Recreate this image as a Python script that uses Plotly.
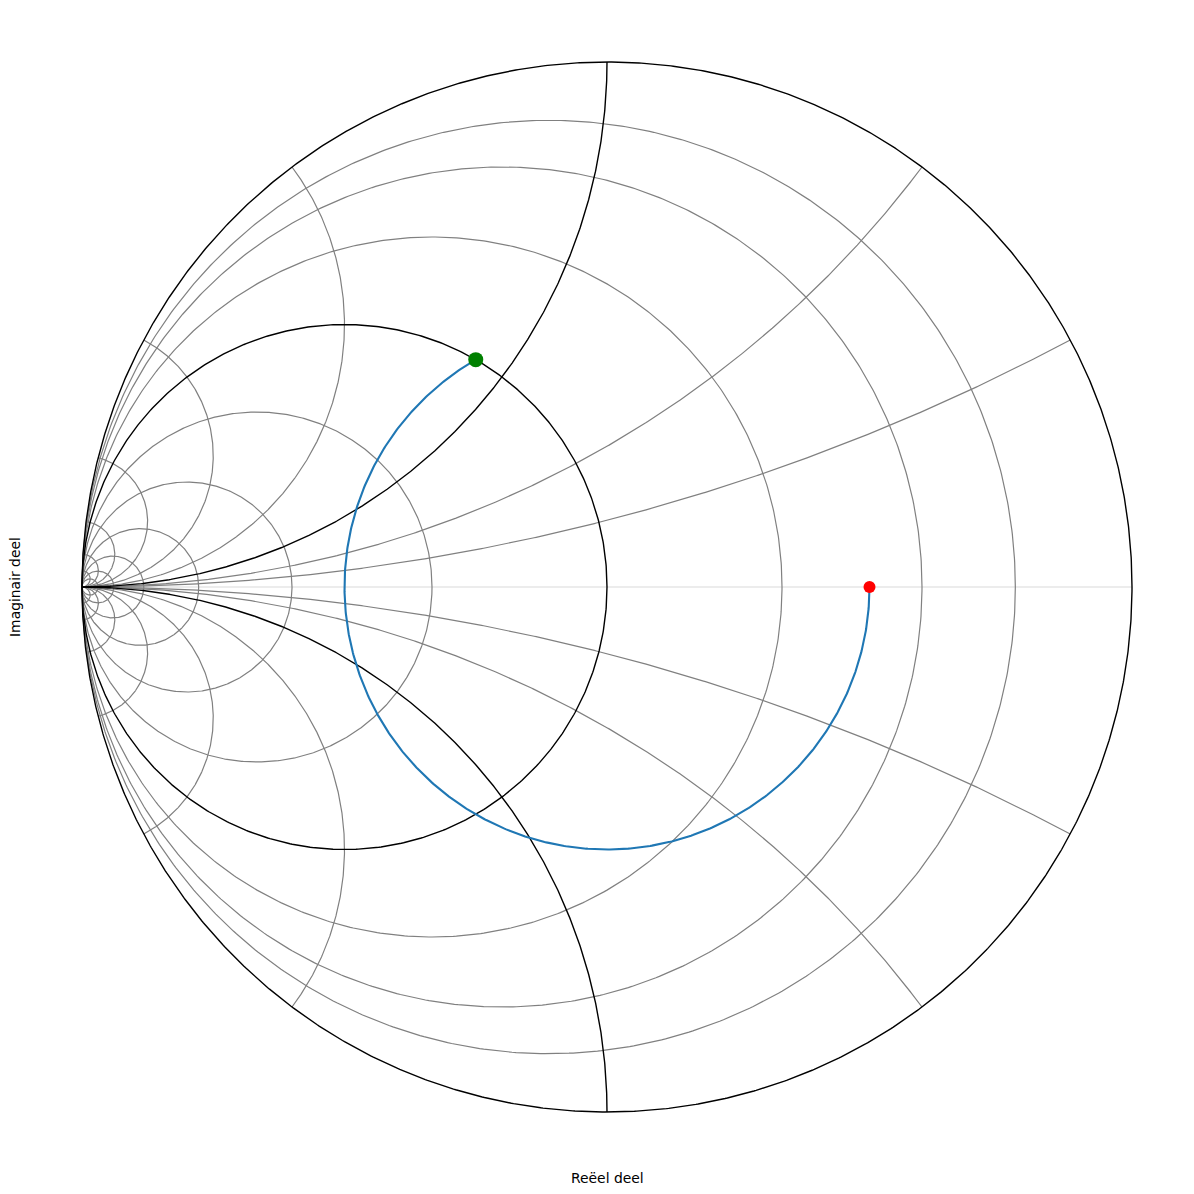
import numpy as np
import plotly.graph_objects as go

# ---- chart data (normalised admittance grid, Smith/admittance chart) ----
conductance_grey = [0.125, 0.25, 0.5, 2, 4, 8, 16, 32, 64]
conductance_black = [1]
susceptance_grey = [0.25, 0.5, 2, 4, 8, 16, 32, 64]
susceptance_black = [1]

gamma_load = 0.5 + 0.0j          # start point (red)
line_length_wl = 1.0 / 3.0       # electrical length of the rotation (wavelengths)

x_label = "Reëel deel"
y_label = "Imaginair deel"


def g_circle(g, n=721):
    c = -g / (1.0 + g)
    r = 1.0 / (1.0 + g)
    t = np.linspace(0, 2 * np.pi, n)
    return list(c + r * np.cos(t)), list(r * np.sin(t))


def b_arc(b, n=500):
    R = 1.0 / abs(b)
    bb = abs(b)
    a_end = np.arctan2((bb * bb - 1.0) / bb, 2.0)
    phi = np.linspace(-np.pi / 2, a_end, n)
    x = -1.0 + R * np.cos(phi)
    y = R + R * np.sin(phi)
    if b < 0:
        y = -y
    return list(x), list(y)


def collect(gs, bs):
    X, Y = [], []
    for g in gs:
        x, y = g_circle(g)
        X += x + [None]
        Y += y + [None]
    for b in bs:
        for s in (1, -1):
            x, y = b_arc(s * b)
            X += x + [None]
            Y += y + [None]
    return X, Y


fig = go.Figure()

# real axis (light)
fig.add_trace(go.Scatter(x=[-1, 1], y=[0, 0], mode="lines",
                         line=dict(color="#e6e6e6", width=1.5),
                         hoverinfo="skip", showlegend=False))

gx, gy = collect(conductance_grey, susceptance_grey)
fig.add_trace(go.Scatter(x=gx, y=gy, mode="lines",
                         line=dict(color="gray", width=1.2),
                         hoverinfo="skip", showlegend=False))

bx, by = collect(conductance_black, susceptance_black)
t = np.linspace(0, 2 * np.pi, 1441)
bx += list(np.cos(t)) + [None]
by += list(np.sin(t)) + [None]
fig.add_trace(go.Scatter(x=bx, y=by, mode="lines",
                         line=dict(color="black", width=1.4),
                         hoverinfo="skip", showlegend=False))

# transmission line rotation toward generator
d = np.linspace(0, line_length_wl, 600)
gam = gamma_load * np.exp(-1j * 4 * np.pi * d)
fig.add_trace(go.Scatter(x=gam.real, y=gam.imag, mode="lines",
                         line=dict(color="#1f77b4", width=2.1),
                         hoverinfo="skip", showlegend=False))

fig.add_trace(go.Scatter(x=[gam.real[0]], y=[gam.imag[0]], mode="markers",
                         marker=dict(color="red", size=12),
                         hoverinfo="skip", showlegend=False))
fig.add_trace(go.Scatter(x=[gam.real[-1]], y=[gam.imag[-1]], mode="markers",
                         marker=dict(color="green", size=15),
                         hoverinfo="skip", showlegend=False))

W = H = 1194
# page body has an 8px margin; plot area should sit at page px 40..1174 / 20..1154
ml, mr, mt, mb = 32, 28, 12, 48
plot_w = W - ml - mr
span = plot_w / 525.0 / 2.0

fig.update_layout(
    width=W, height=H, autosize=False,
    margin=dict(l=ml, r=mr, t=mt, b=mb),
    paper_bgcolor="white", plot_bgcolor="white",
    xaxis=dict(range=[-span, span], visible=False, fixedrange=True),
    yaxis=dict(range=[-span, span], visible=False, fixedrange=True),
    font=dict(family="DejaVu Sans", size=13.9, color="black"),
    annotations=[
        dict(text=x_label, xref="paper", yref="paper", x=0.5,
             y=(1154 - 1178) / 1134.0,
             xanchor="center", yanchor="middle", showarrow=False,
             font=dict(family="DejaVu Sans", size=13.9, color="black")),
        dict(text=y_label, xref="paper", yref="paper", x=(15 - 40) / 1134.0,
             y=0.5, xanchor="center", yanchor="middle", showarrow=False,
             textangle=-90,
             font=dict(family="DejaVu Sans", size=13.9, color="black")),
    ],
)

fig.write_html("out.html")
